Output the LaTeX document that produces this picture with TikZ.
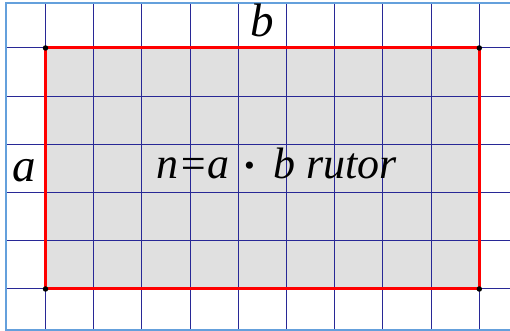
\documentclass[tikz,border=0pt]{standalone}
\usepackage{fontspec}
\setmainfont{Liberation Serif}
\definecolor{gridblue}{RGB}{40,40,150}
\definecolor{frameblue}{RGB}{100,160,220}
\definecolor{cellgray}{RGB}{224,224,224}
\tikzset{
  gridline/.style={draw=gridblue, line width=1pt},
  framebox/.style={draw=frameblue, line width=1.6pt},
  redline/.style={draw=red, line width=3pt},
  cornerdot/.style={circle, fill=black, inner sep=0pt, minimum size=5.5pt},
  biglabel/.style={inner sep=0pt, anchor=base, font=\fontsize{47}{50}\selectfont\itshape},
  maintext/.style={inner sep=0pt, anchor=base west, font=\fontsize{44}{46}\selectfont\itshape}
}
\begin{document}
\begin{tikzpicture}[x=1pt,y=1pt]
\useasboundingbox (0,0) rectangle (510,331);
\fill[white] (0,0) rectangle (510,331);
% gray area
\fill[cellgray] (45.5,42) rectangle (479.3,283);
% grid
\foreach \k in {0,...,9} {
  \draw[gridline] (45.5+48.2*\k,1) -- (45.5+48.2*\k,328);
}
\foreach \k in {0,...,5} {
  \draw[gridline] (6,283-48.2*\k) -- (512,283-48.2*\k);
}
% outer frame
\draw[framebox] (6,1) rectangle (514,328);
% red rectangle
\draw[redline] (45.5,42) rectangle (479.3,283);
% corner dots
\node[cornerdot] (c1) at (45.5,283) {};
\node[cornerdot] (c2) at (479.3,283) {};
\node[cornerdot] (c3) at (479.3,42) {};
\node[cornerdot] (c4) at (45.5,42) {};
% labels
\node[biglabel] (lb) at (262,294) {b};
\node[biglabel] (la) at (24,149) {a};
\node[maintext] (txt) at (156,152) {n=a\hspace{11.5pt}\raisebox{-7pt}{\fontsize{60}{60}\selectfont ·}\hspace{17pt}b rutor};
\end{tikzpicture}
\end{document}
